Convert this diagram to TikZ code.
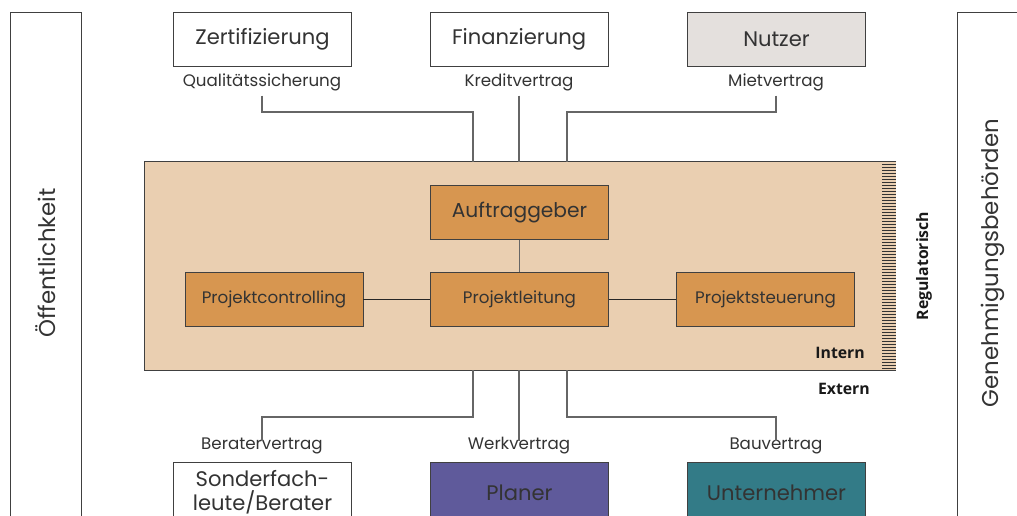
\documentclass[tikz,border=0pt]{standalone}
\usepackage{fontspec}
\setmainfont{Poppins}
\newfontfamily\fettfont{Open Sans}
\usepackage{tikz}
\usetikzlibrary{positioning,calc}
\definecolor{Pfirsich}{HTML}{EACFB1}
\definecolor{Orange}{HTML}{D79650}
\definecolor{Lila}{HTML}{5F5A9B}
\definecolor{Petrol}{HTML}{337B87}
\definecolor{Hellgrau}{HTML}{E4E0DD}
\definecolor{Schrift}{HTML}{333333}
\tikzset{
  kasten/.style={draw=black!75, fill=white, text=Schrift, minimum width=3.56cm, minimum height=1.08cm, font=\fontsize{12}{13}\selectfont, align=center, inner sep=1pt},
  intkasten/.style={kasten, fill=Orange, font=\fontsize{9.5}{11}\selectfont},
  vertrag/.style={text=Schrift, font=\fontsize{9.5}{10}\selectfont, inner sep=1pt},
  leitung/.style={draw=black!60, thick},
  fett/.style={text=black!90, font=\fettfont\bfseries\fontsize{9}{10}\selectfont}
}
\begin{document}
\begin{tikzpicture}[x=0.02cm, y=-0.02cm]
        \useasboundingbox (0,0) rectangle (1017,515);
        %Seiten
        \draw[black!75] (10,530) -- (10,12) -- (81,12) -- (81,530);
        \node[text=Schrift, rotate=90, font=\fontsize{13}{14}\selectfont] (oeff) at (45.5,263) {Öffentlichkeit};
        \draw[black!75] (957,530) -- (957,12) -- (1030,12);
        \node[text=Schrift, rotate=90, font=\fontsize{13}{14}\selectfont] (gen) at (993,263) {Genehmigungsbehörden};
        %Oben
        \node[kasten] (zert) at (262.5,39) {Zertifizierung};
        \node[kasten] (fin) at (519,39) {Finanzierung};
        \node[kasten, fill=Hellgrau] (nutz) at (776.5,39) {Nutzer};
        \node[vertrag] (quali) at (262,82) {Qualitätssicherung};
        \node[vertrag] (kredit) at (519,82) {Kreditvertrag};
        \node[vertrag] (miet) at (776,82) {Mietvertrag};
        %Intern
        \node[fill=Pfirsich, minimum width=15.02cm, minimum height=4.16cm, inner sep=0pt] (intern) at (520.5,266) {};
        \draw[black!75] (intern.north east) -- (intern.north west) -- (intern.south west) -- (intern.south east);
        \foreach \y in {164,167,...,368}
          \draw[black!80] (882,\y) -- (896,\y);
        \node[intkasten, font=\fontsize{11.5}{13}\selectfont] (ag) at (519.5,212.5) {Auftraggeber};
        \node[intkasten] (pl) at (519.5,299) {Projektleitung};
        \node[intkasten] (pc) at (274,299) {Projektcontrolling};
        \node[intkasten] (ps) at (765.5,299) {Projektsteuerung};
        \draw[black!60] (ag) -- (pl);
        \draw[black!85] (pc) -- (pl);
        \draw[black!85] (pl) -- (ps);
        \node[fett, anchor=east] (int) at (871,353) {Intern};
        \node[fett, anchor=east] (ext) at (876,389) {Extern};
        \node[fett, rotate=90] (reg) at (924,266) {Regulatorisch};
        %Anschluesse
        \coordinate (o1) at (473,162);
        \coordinate (o3) at (567,162);
        \coordinate (u1) at (473,370);
        \coordinate (u3) at (567,370);
        \draw[leitung] (quali.south) ++(0,3) |- (473,112) -- (o1);
        \draw[leitung] (kredit.south) ++(0,3) -- (intern.north -| kredit);
        \draw[leitung] (miet.south) ++(0,3) |- (567,112) -- (o3);
        %Unten
        \node[vertrag] (berat) at (262,446) {Beratervertrag};
        \node[vertrag] (werk) at (519,446) {Werkvertrag};
        \node[vertrag] (bau) at (776,446) {Bauvertrag};
        \draw[leitung] (u1) -- (473,417) -| ([yshift=-3]berat.north);
        \draw[leitung] (intern.south -| werk) -- ([yshift=-3]werk.north);
        \draw[leitung] (u3) -- (567,417) -| ([yshift=-3]bau.north);
        \node[kasten, minimum height=1.2cm, anchor=north, font=\fontsize{12}{13.5}\selectfont] (sond) at (262.5,462) {Sonderfach-\\leute/Berater};
        \node[kasten, fill=Lila, anchor=north, minimum height=1.2cm] (plan) at (519.5,462) {Planer};
        \node[kasten, fill=Petrol, anchor=north, minimum height=1.2cm] (unt) at (776.5,462) {Unternehmer};
\end{tikzpicture}
\end{document}
